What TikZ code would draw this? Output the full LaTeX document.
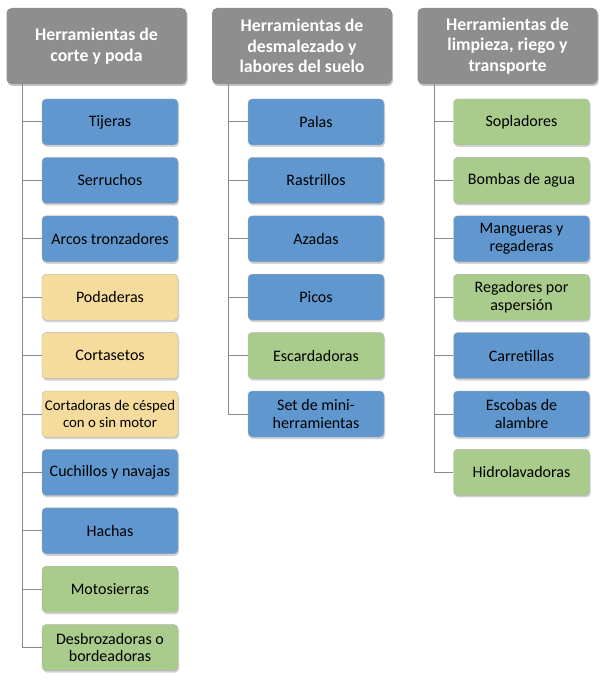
\documentclass[tikz,border=0pt]{standalone}
\usepackage{fontspec}
\setmainfont{Carlito}
\usetikzlibrary{shadows}
\definecolor{hdr}{HTML}{8E8E8E}
\definecolor{bluebox}{HTML}{6097CF}
\definecolor{yelbox}{HTML}{F5DC9D}
\definecolor{grnbox}{HTML}{A9CB8B}
\definecolor{lnk}{HTML}{8A8A8A}
\tikzset{
  header/.style={draw=none, rounded corners=5pt, minimum width=180pt, minimum height=76pt,
    inner xsep=0pt, align=center, text=white, font=\fontsize{17.8}{20.5}\selectfont\bfseries,
    drop shadow={shadow xshift=1pt, shadow yshift=-2pt, fill=black!40, opacity=0.6}},
  item/.style={draw=black!30, line width=0.4pt, rounded corners=4pt, minimum width=136pt, minimum height=46pt,
    inner xsep=0pt, align=center, text=black, font=\fontsize{16}{17.5}\selectfont,
    drop shadow={shadow xshift=1pt, shadow yshift=-2pt, fill=black!35, opacity=0.5}},
  narrow/.style={font=\fontsize{14.8}{17.5}\selectfont},
  bl/.style={item, fill=bluebox},
  ye/.style={item, fill=yelbox},
  gr/.style={item, fill=grnbox},
  conn/.style={draw=lnk, line width=1pt}
}
\begin{document}
\begin{tikzpicture}[x=1pt,y=-1pt]
\useasboundingbox (0,0) rectangle (605,684);
% headers
\node[header, fill=hdr] (h1) at (96.5,46) {Herramientas de\\corte y poda};
\node[header, fill=hdr] (h2) at (302,46) {Herramientas de\\desmalezado y\\labores del suelo};
\node[header, fill=hdr] (h3) at (507.5,46) {Herramientas de\\limpieza, riego y\\transporte};
% column 1
\node[bl] (a1) at (110,122) {Tijeras};
\node[bl] (a2) at (110,180.4) {Serruchos};
\node[bl] (a3) at (110,238.8) {Arcos tronzadores};
\node[ye] (a4) at (110,297.2) {Podaderas};
\node[ye] (a5) at (110,355.6) {Cortasetos};
\node[ye, narrow] (a6) at (110,414) {Cortadoras de césped\\con o sin motor};
\node[bl] (a7) at (110,472.4) {Cuchillos y navajas};
\node[bl] (a8) at (110,530.8) {Hachas};
\node[gr] (a9) at (110,589.2) {Motosierras};
\node[gr] (a10) at (110,647.6) {Desbrozadoras o\\bordeadoras};
% column 2
\node[bl] (b1) at (316,122) {Palas};
\node[bl] (b2) at (316,180.4) {Rastrillos};
\node[bl] (b3) at (316,238.8) {Azadas};
\node[bl] (b4) at (316,297.2) {Picos};
\node[gr] (b5) at (316,355.6) {Escardadoras};
\node[bl] (b6) at (316,414) {Set de mini-\\herramientas};
% column 3
\node[gr] (c1) at (521.5,122) {Sopladores};
\node[gr] (c2) at (521.5,180.4) {Bombas de agua};
\node[bl] (c3) at (521.5,238.8) {Mangueras y\\regaderas};
\node[gr] (c4) at (521.5,297.2) {Regadores por\\aspersión};
\node[bl] (c5) at (521.5,355.6) {Carretillas};
\node[bl] (c6) at (521.5,414) {Escobas de\\alambre};
\node[gr] (c7) at (521.5,472.4) {Hidrolavadoras};
% connectors
\foreach \n in {a1,a2,a3,a4,a5,a6,a7,a8,a9,a10}
  \draw[conn] ([xshift=16.5pt]h1.south west) |- (\n.west);
\foreach \n in {b1,b2,b3,b4,b5,b6}
  \draw[conn] ([xshift=17pt]h2.south west) |- (\n.west);
\foreach \n in {c1,c2,c3,c4,c5,c6,c7}
  \draw[conn] ([xshift=17.5pt]h3.south west) |- (\n.west);
\end{tikzpicture}
\end{document}
